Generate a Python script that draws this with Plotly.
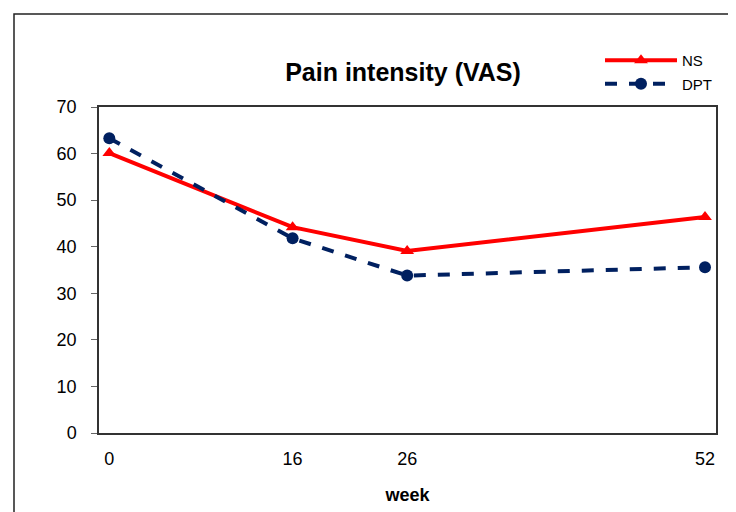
import plotly.graph_objects as go

# data
weeks = [0, 16, 26, 52]
ns_values = [60.1, 44.2, 39.1, 46.4]
dpt_values = [63.3, 41.8, 33.8, 35.6]
y_ticks = [0, 10, 20, 30, 40, 50, 60, 70]

fig = go.Figure()

fig.add_trace(go.Scatter(
    x=weeks, y=ns_values, name="NS", mode="lines+markers",
    line=dict(color="#ff0000", width=4),
    marker=dict(symbol="triangle-up", size=12, color="#ff0000"),
    legendgroup="ns",
))
fig.add_trace(go.Scatter(
    x=weeks, y=dpt_values, name="DPT", mode="lines+markers",
    line=dict(color="#002060", width=4, dash="dash"),
    marker=dict(symbol="circle", size=12, color="#002060"),
    legendgroup="dpt",
))

# page has an 8px body margin, so the figure is laid out 8px up/left
# plot area: left 91, right 708, top 99, bottom 425 (figure coords)
pw, ph = 617, 326

# outer chart frame
fig.add_shape(type="rect", xref="paper", yref="paper",
              x0=(6 - 91) / pw, x1=(760 - 91) / pw,
              y0=(425 - 530) / ph, y1=(425 - 6) / ph,
              line=dict(color="#222222", width=1.5), layer="below")

fig.update_layout(
    width=736, height=512,
    margin=dict(l=91, r=28, t=99, b=87),
    paper_bgcolor="white", plot_bgcolor="white",
    font=dict(family="Arial, Liberation Sans, sans-serif", color="black"),
    title=dict(text="<b>Pain intensity (VAS)</b>", x=395 / 736, xanchor="center",
               y=1 - 64 / 512, yanchor="middle", font=dict(size=25)),
    legend=dict(x=(592 - 91) / pw, y=1 + (99 - 36) / ph, xanchor="left", yanchor="top",
                font=dict(size=15), tracegroupgap=1, itemwidth=72,
                bgcolor="rgba(0,0,0,0)"),
    showlegend=True,
)

fig.update_xaxes(
    range=[-0.9, 52.96], tickmode="array", tickvals=weeks,
    ticktext=[str(w) for w in weeks], ticks="", showgrid=False, zeroline=False,
    showline=True, linecolor="#333333", linewidth=1.5, mirror=True,
    tickfont=dict(size=18), ticklabelstandoff=9,
    title=dict(text="<b>week</b>", font=dict(size=18), standoff=20),
)
fig.update_yaxes(
    range=[0, 70], tickmode="array", tickvals=y_ticks, ticks="outside",
    ticklen=6, tickcolor="#666666", showgrid=False, zeroline=False,
    showline=True, linecolor="#333333", linewidth=1.5, mirror=True,
    tickfont=dict(size=18), ticklabelstandoff=11,
)

fig.write_html("out.html")
